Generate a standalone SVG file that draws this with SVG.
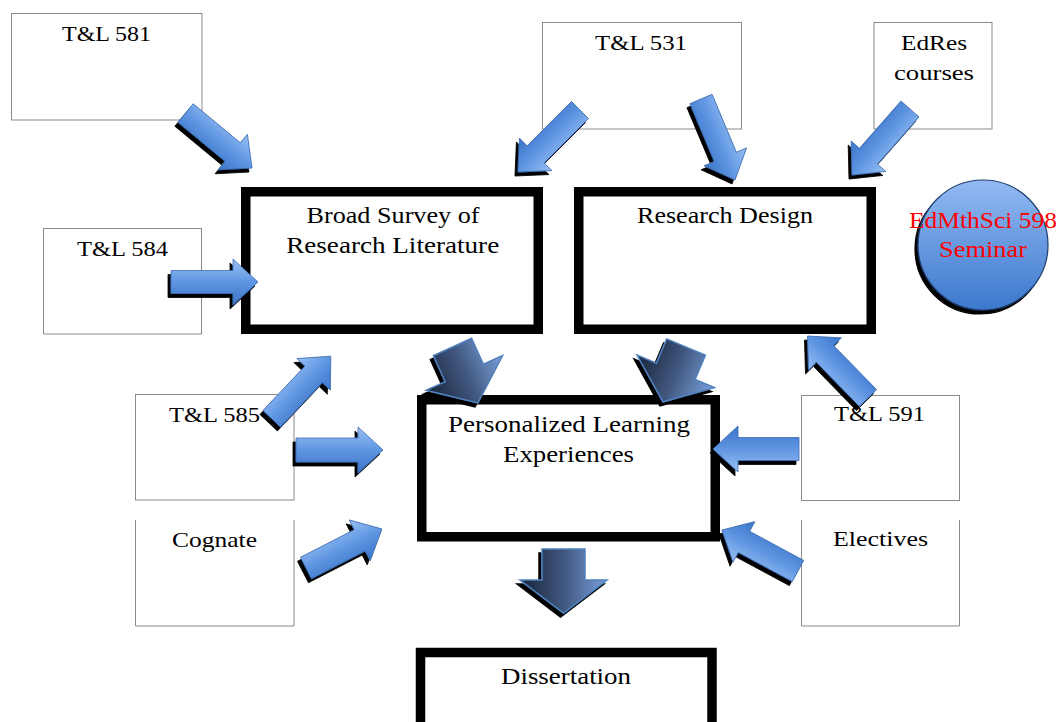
<svg xmlns="http://www.w3.org/2000/svg" width="1059" height="722" viewBox="0 0 1059 722">
<defs>
<linearGradient id="gBlue" x1="0" y1="0" x2="0" y2="1">
<stop offset="0" stop-color="#9ac0f5"/>
<stop offset="0.5" stop-color="#5f96e2"/>
<stop offset="1" stop-color="#3b74c8"/>
</linearGradient>
<linearGradient id="gDark" x1="0" y1="1" x2="0" y2="0">
<stop offset="0" stop-color="#18243a"/>
<stop offset="0.5" stop-color="#40577e"/>
<stop offset="1" stop-color="#7aa0dc"/>
</linearGradient>
<linearGradient id="gCircle" x1="0" y1="0" x2="0" y2="1">
<stop offset="0" stop-color="#93baf3"/>
<stop offset="1" stop-color="#3c78cc"/>
</linearGradient>
<filter id="sh" x="-20%" y="-20%" width="140%" height="140%">
<feGaussianBlur in="SourceAlpha" stdDeviation="0.6" result="b"/>
<feOffset in="b" dx="-3" dy="3.5" result="o"/>
<feFlood flood-color="#000" flood-opacity="1"/>
<feComposite in2="o" operator="in" result="s"/>
<feMerge><feMergeNode in="s"/><feMergeNode in="SourceGraphic"/></feMerge>
</filter>
</defs>
<style>
.thin{fill:#fff;stroke:#8a8a8a;stroke-width:1}
.thick{fill:#fff;stroke:#000;stroke-width:9.5}
.t{font-family:"Liberation Serif","Times New Roman",serif;font-size:22px;fill:#000;text-anchor:middle}
.tb{font-family:"Liberation Serif","Times New Roman",serif;font-size:23px;fill:#000;text-anchor:middle}
.red{font-family:"Liberation Serif","Times New Roman",serif;font-size:23px;fill:#ff0000;text-anchor:middle}
.ba{fill:url(#gBlue);stroke:#3c6cb0;stroke-width:0.8}
.da{fill:url(#gDark);stroke:#4f81bd;stroke-width:1.5}
</style>
<rect width="1059" height="722" fill="#fff"/>

<g id="n-tl581"><rect class="thin" x="11.5" y="13.5" width="190.5" height="106.5"/><text class="t" x="106.5" y="41" textLength="89" lengthAdjust="spacingAndGlyphs">T&amp;L 581</text></g>
<g id="n-tl584"><rect class="thin" x="43.5" y="228.5" width="158" height="105.5"/><text class="t" x="122.5" y="256" textLength="91" lengthAdjust="spacingAndGlyphs">T&amp;L 584</text></g>
<g id="n-tl531"><rect class="thin" x="542.5" y="22.5" width="199" height="106.5"/><text class="t" x="641" y="50" textLength="92" lengthAdjust="spacingAndGlyphs">T&amp;L 531</text></g>
<g id="n-edres"><rect class="thin" x="874" y="22.5" width="118" height="106.5"/><text class="t" x="934" y="50" textLength="66" lengthAdjust="spacingAndGlyphs">EdRes</text><text class="t" x="934" y="80" textLength="80" lengthAdjust="spacingAndGlyphs">courses</text></g>
<g id="n-tl585"><rect class="thin" x="135.5" y="394.5" width="158.5" height="105.5"/><text class="t" x="214.5" y="422" textLength="91" lengthAdjust="spacingAndGlyphs">T&amp;L 585</text></g>
<g id="n-cognate"><path class="thin" d="M135.5 520 V626 H294 V520" fill="#fff"/><text class="t" x="214.5" y="547" textLength="85" lengthAdjust="spacingAndGlyphs">Cognate</text></g>
<g id="n-tl591"><rect class="thin" x="801.5" y="395.5" width="158" height="105"/><text class="t" x="879.5" y="421" textLength="91" lengthAdjust="spacingAndGlyphs">T&amp;L 591</text></g>
<g id="n-electives"><path class="thin" d="M801.5 520 V626 H959.5 V520" fill="#fff"/><text class="t" x="880.5" y="546" textLength="95" lengthAdjust="spacingAndGlyphs">Electives</text></g>

<g id="n-broad"><rect class="thick" x="245.75" y="191.75" width="292.5" height="137.5"/><text class="tb" x="393" y="223" textLength="173" lengthAdjust="spacingAndGlyphs">Broad Survey of</text><text class="tb" x="392.7" y="252.7" textLength="213" lengthAdjust="spacingAndGlyphs">Research Literature</text></g>
<g id="n-design"><rect class="thick" x="578.75" y="191.75" width="292.5" height="137.5"/><text class="tb" x="725" y="223" textLength="176" lengthAdjust="spacingAndGlyphs">Research Design</text></g>
<g id="n-personal"><rect class="thick" x="421.75" y="399.75" width="293.5" height="137"/><text class="tb" x="569" y="432" textLength="242" lengthAdjust="spacingAndGlyphs">Personalized Learning</text><text class="tb" x="568.5" y="462" textLength="131" lengthAdjust="spacingAndGlyphs">Experiences</text></g>
<g id="n-diss"><rect class="thick" x="420.5" y="652.5" width="291.5" height="100"/><text class="tb" x="566" y="684" textLength="130" lengthAdjust="spacingAndGlyphs">Dissertation</text></g>
<g id="n-seminar"><circle cx="983" cy="245" r="65" fill="url(#gCircle)" stroke="#1e3e6e" stroke-width="1.2" filter="url(#sh)"/><text class="red" x="983" y="228" textLength="148" lengthAdjust="spacingAndGlyphs">EdMthSci 598</text><text class="red" x="983" y="257" textLength="88" lengthAdjust="spacingAndGlyphs">Seminar</text></g>

<g id="connectors">
<g filter="url(#sh)"><polygon class="ba" transform="translate(185.5,113) rotate(39.6)" points="0,-12 61.3,-12 61.3,-23 86.3,0 61.3,23 61.3,12 0,12"/></g>
<g filter="url(#sh)"><polygon class="ba" transform="translate(171,282)" points="0,-11.5 62,-11.5 62,-23 87,0 62,23 62,11.5 0,11.5"/></g>
<g filter="url(#sh)"><polygon class="ba" transform="translate(580,110) rotate(135)" points="0,-12 62.7,-12 62.7,-23 87.7,0 62.7,23 62.7,12 0,12"/></g>
<g filter="url(#sh)"><polygon class="ba" transform="translate(701,99) rotate(67.2)" points="0,-12 62.8,-12 62.8,-23 87.8,0 62.8,23 62.8,12 0,12"/></g>
<g filter="url(#sh)"><polygon class="ba" transform="translate(910,109) rotate(131.3)" points="0,-12 62.9,-12 62.9,-23 87.9,0 62.9,23 62.9,12 0,12"/></g>
<g filter="url(#sh)"><polygon class="ba" transform="translate(868,398) rotate(-134.3)" points="0,-12 61.6,-12 61.6,-23 86.6,0 61.6,23 61.6,12 0,12"/></g>
<g filter="url(#sh)"><polygon class="ba" transform="translate(271.7,418.7) rotate(-46.6)" points="0,-12 61,-12 61,-23 86,0 61,23 61,12 0,12"/></g>
<g filter="url(#sh)"><polygon class="ba" transform="translate(296,450)" points="0,-12 62,-12 62,-23 87,0 62,23 62,12 0,12"/></g>
<g filter="url(#sh)"><polygon class="ba" transform="translate(306,568) rotate(-27.2)" points="0,-12 60.4,-12 60.4,-23 85.4,0 60.4,23 60.4,12 0,12"/></g>
<g filter="url(#sh)"><polygon class="ba" transform="translate(799,449) rotate(180)" points="0,-11.5 61,-11.5 61,-23 86,0 61,23 61,11.5 0,11.5"/></g>
<g filter="url(#sh)"><polygon class="ba" transform="translate(798,571) rotate(208.3)" points="0,-12 61.4,-12 61.4,-23 86.4,0 61.4,23 61.4,12 0,12"/></g>
<g filter="url(#sh)"><polygon class="da" transform="translate(452.5,347) rotate(65.5)" points="0,-21 28.5,-21 28.5,-42 61.5,0 28.5,42 28.5,21 0,21"/></g>
<g filter="url(#sh)"><polygon class="da" transform="translate(686,347) rotate(112.8)" points="0,-21 26.4,-21 26.4,-42 59.4,0 26.4,42 26.4,21 0,21"/></g>
<g filter="url(#sh)"><polygon class="da" transform="translate(563.5,549) rotate(90)" points="0,-21.5 31,-21.5 31,-43.5 64,0 31,43.5 31,21.5 0,21.5"/></g>
</g>
</svg>
